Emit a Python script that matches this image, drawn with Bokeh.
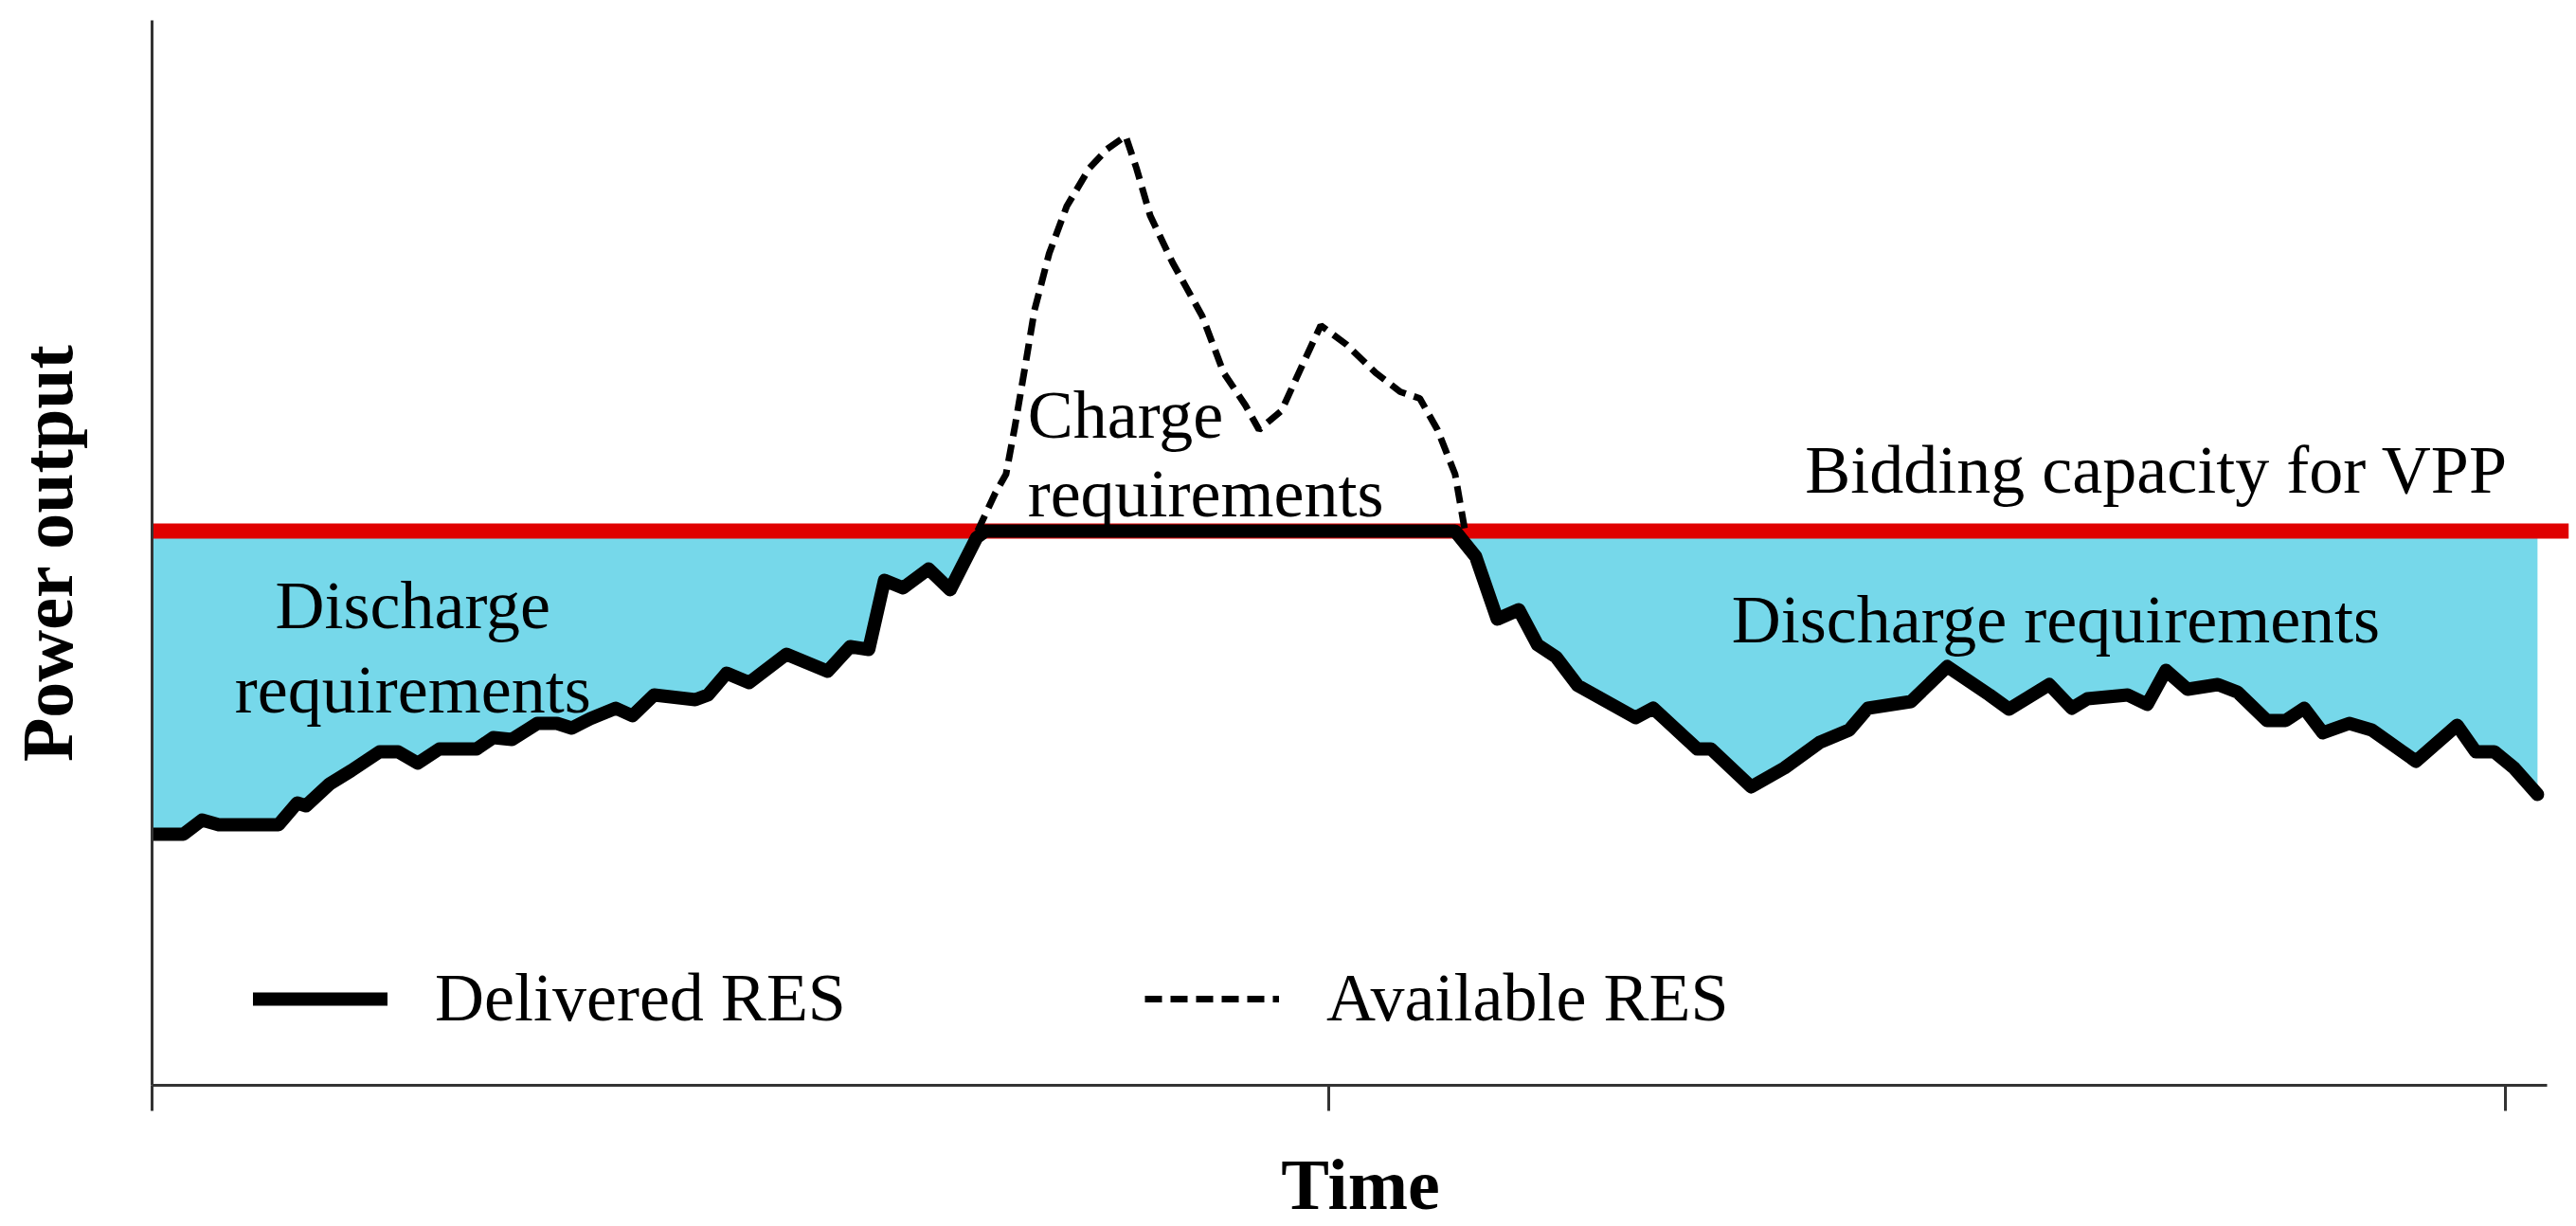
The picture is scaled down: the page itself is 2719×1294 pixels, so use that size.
from bokeh.plotting import figure
from bokeh.models import Range1d, FixedTicker, Label, Legend, LegendItem
from bokeh.embed import file_html
from bokeh.resources import INLINE

# ---------------- data ----------------
time_ticks = [0, 120, 240]
bid_capacity = 58.5

delivered_t = [0.0, 3.2, 5.1, 6.8, 12.9, 14.8, 15.7, 18.1, 20.3, 23.2, 25.1, 27.1, 29.3, 33.1,
               34.8, 36.7, 39.3, 41.3, 42.8, 44.7, 47.3, 49.0, 51.2, 55.4, 56.7, 58.6, 60.9,
               64.7, 68.9, 71.2, 73.1, 74.7, 76.6, 79.2, 81.4, 84.1, 85.0, 132.9, 135.0, 137.2,
               139.4, 141.3, 143.2, 145.4, 151.3, 153.1, 157.6, 159.0, 163.1, 166.5, 170.1,
               173.1, 175.0, 179.4, 183.1, 187.4, 189.4, 193.5, 195.8, 197.4, 201.5, 203.5,
               205.4, 207.6, 210.7, 212.7, 215.7, 217.6, 219.5, 221.4, 224.1, 226.4, 230.9,
               235.1, 237.0, 238.9, 240.9, 243.3]
delivered_p = [26.5, 26.5, 28.0, 27.5, 27.5, 29.8, 29.5, 31.8, 33.2, 35.2, 35.2, 34.0, 35.5, 35.5,
               36.7, 36.5, 38.2, 38.2, 37.7, 38.7, 39.8, 39.0, 41.2, 40.7, 41.2, 43.5, 42.5,
               45.5, 43.7, 46.3, 46.0, 53.3, 52.5, 54.5, 52.3, 57.8, 58.5, 58.5, 55.8, 49.2,
               50.2, 46.5, 45.2, 42.2, 38.8, 39.8, 35.5, 35.5, 31.5, 33.5, 36.2,
               37.5, 39.8, 40.5, 44.2, 41.2, 39.7, 42.3, 39.8, 40.8, 41.2, 40.2,
               43.8, 41.8, 42.3, 41.5, 38.5, 38.5, 39.8, 37.2, 38.2, 37.5, 34.2,
               38.0, 35.2, 35.2, 33.5, 30.7]

available_t = [84.2, 86.0, 87.1, 88.0, 89.1, 90.0, 91.5, 93.3, 95.6, 97.4, 99.3, 100.4, 101.8,
               104.1, 107.1, 109.3, 111.5, 112.9, 115.2, 117.4, 119.2, 121.8, 124.8, 127.3,
               129.3, 131.1, 132.9, 134.0]
available_p = [58.5, 62.5, 64.5, 69.5, 76.2, 81.8, 87.8, 92.8, 96.8, 98.8, 100.2, 96.8, 91.8,
               86.8, 81.2, 75.2, 71.8, 69.2, 71.2, 76.2, 80.2, 78.2, 75.2, 73.2,
               72.5, 69.2, 64.5, 58.0]

# ---------------- styles ----------------
SERIF = "Liberation Serif"
FILL = "#76D8EA"
RED = "#E00000"
AXIS = "#333333"

p = figure(width=2719, height=1294,
           x_range=Range1d(0, 246.5), y_range=Range1d(0, 112.4),
           output_backend="svg", toolbar_location=None,
           min_border_left=160, min_border_right=8,
           min_border_top=21, min_border_bottom=149)
p.outline_line_color = None
p.grid.visible = False
p.background_fill_color = "white"
p.border_fill_color = "white"

# discharge requirement area (between delivered RES and bidding capacity)
p.varea(x=delivered_t, y1=delivered_p, y2=bid_capacity, fill_color=FILL)

# bidding capacity line
p.hspan(y=[bid_capacity], line_color=RED, line_width=16)

r_av = p.line(available_t, available_p, line_color="black", line_width=7,
              line_dash="18 9")
r_del = p.line(delivered_t, delivered_p, line_color="black", line_width=14,
               line_join="round", line_cap="round")

# axes
xa = p.xaxis[0]
xa.ticker = FixedTicker(ticks=time_ticks)
xa.bounds = (0, 244.3)
xa.major_tick_out = 27
xa.major_tick_in = 0
xa.minor_tick_out = 0
xa.minor_tick_in = 0
xa.major_tick_line_width = 3
xa.major_tick_line_color = AXIS
xa.axis_line_width = 3
xa.axis_line_color = AXIS
xa.major_label_text_font_size = "0px"
xa.major_label_text_color = None
xa.major_label_standoff = 0
xa.axis_label = "Time"
xa.axis_label_text_font = SERIF
xa.axis_label_text_font_style = "bold"
xa.axis_label_text_font_size = "76px"
xa.axis_label_text_color = "black"
xa.axis_label_standoff = 35

ya = p.yaxis[0]
ya.ticker = FixedTicker(ticks=[])
ya.major_tick_out = 0
ya.major_tick_in = 0
ya.minor_tick_out = 0
ya.minor_tick_in = 0
ya.axis_line_width = 3
ya.axis_line_color = AXIS
ya.major_label_text_font_size = "0px"
ya.major_label_text_color = None
ya.major_label_standoff = 0
ya.axis_label = "Power output"
ya.axis_label_text_font = SERIF
ya.axis_label_text_font_style = "bold"
ya.axis_label_text_font_size = "76px"
ya.axis_label_text_color = "black"
ya.axis_label_standoff = 69

# annotations
def add_text(x, y, text, align="left"):
    p.add_layout(Label(x=x, y=y, text=text, text_align=align,
                       text_baseline="alphabetic", text_font=SERIF,
                       text_font_size="72px", text_color="black"))

add_text(26.6, 50.7, "Discharge", "center")
add_text(26.6, 41.8, "requirements", "center")
add_text(161.1, 49.2, "Discharge requirements")
add_text(89.3, 70.8, "Charge")
add_text(89.3, 62.5, "requirements")
add_text(168.6, 65.0, "Bidding capacity for VPP")

legend = Legend(items=[LegendItem(label="Delivered RES", renderers=[r_del]),
                       LegendItem(label="Available RES", renderers=[r_av])],
                orientation="horizontal", location=(107, 50),
                glyph_width=142, glyph_height=40, label_standoff=50, spacing=315,
                padding=0, margin=0, border_line_color=None,
                background_fill_alpha=0, label_text_font=SERIF,
                label_text_font_size="72px", label_text_color="black")
p.add_layout(legend)

open("out.html", "w").write(file_html(p, INLINE))
